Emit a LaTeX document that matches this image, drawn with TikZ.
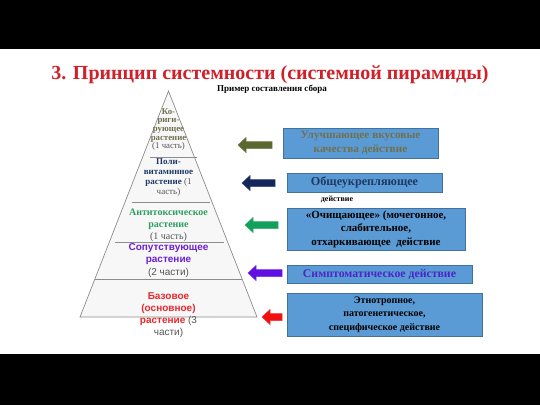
\documentclass[tikz,border=0pt]{standalone}
\usepackage{fontspec}
\setmainfont{Liberation Serif}
\setsansfont{Liberation Sans}
\definecolor{titlered}{HTML}{D0202A}
\definecolor{olivetxt}{HTML}{707050}
\definecolor{navytxt}{HTML}{1F3864}
\definecolor{greentxt}{HTML}{2E9E62}
\definecolor{purpletxt}{HTML}{6A1FD0}
\definecolor{boxpurple}{HTML}{4B25C8}
\definecolor{redtxt}{HTML}{E8282E}
\definecolor{boxfill}{HTML}{5B9BD5}
\definecolor{boxline}{HTML}{41719C}
\definecolor{arrolive}{HTML}{5C6830}
\definecolor{arrnavy}{HTML}{14275A}
\definecolor{arrgreen}{HTML}{14A05A}
\definecolor{arrpurple}{HTML}{6010E0}
\definecolor{arrred}{HTML}{F01010}
\definecolor{pyrline}{HTML}{8C8C8C}
\definecolor{parttxt}{HTML}{555555}
\tikzset{
  bluebox/.style={draw=boxline, fill=boxfill, line width=0.8pt, inner sep=0pt},
  layertxt/.style={align=center, inner sep=0pt},
  boxtxt/.style={align=center, inner sep=0pt},
  arrfill/.style={fill=#1, draw=#1!85!white, line width=0.5pt},
}
\begin{document}
\begin{tikzpicture}[x=1pt,y=-1pt]
\useasboundingbox (0,0) rectangle (540,405);
\fill[white] (0,0) rectangle (540,405);
\fill[black] (0,0) rectangle (540,49);
\fill[black] (0,354) rectangle (540,405);
% title
\node[font=\bfseries\fontsize{20}{24}\selectfont, text=titlered, inner sep=0pt] (title) at (270,75) {3. Принцип системности (системной пирамиды)};
\node[font=\bfseries\fontsize{9}{10}\selectfont, inner sep=0pt] (sub) at (272,89) {Пример составления сбора};
% pyramid
\coordinate (apex) at (168.5,91);
\coordinate (bl) at (80,317);
\coordinate (br) at (257,317);
\filldraw[draw=pyrline, fill=gray!6, line width=0.7pt] (apex) -- (br) -- (bl) -- cycle;
\draw[pyrline, line width=0.7pt] (150,157) -- (197,157);
\draw[pyrline, line width=0.7pt] (132,202) -- (210,202);
\draw[pyrline, line width=0.7pt] (115,242) -- (224,242);
\draw[pyrline, line width=0.7pt] (95,279) -- (242,279);
% layer texts
\node[layertxt, font=\fontsize{8.8}{8.7}\selectfont] (l1) at (168.5,129.5)
  {\textcolor{olivetxt}{\bfseries Ко-}\\\textcolor{olivetxt}{\bfseries риги-}\\\textcolor{olivetxt}{\bfseries рующее}\\\textcolor{olivetxt}{\bfseries растение}\\\textcolor{parttxt}{(1 часть)}};
\node[layertxt, font=\fontsize{9}{10.3}\selectfont] (l2) at (168.5,177.5)
  {\textcolor{navytxt}{\bfseries Поли-}\\\textcolor{navytxt}{\bfseries витаминное}\\\textcolor{navytxt}{\bfseries растение} \textcolor{parttxt}{(1}\\\textcolor{parttxt}{часть)}};
\node[layertxt, font=\fontsize{10}{12}\selectfont] (l3) at (168.5,225)
  {\textcolor{greentxt}{\bfseries Антитоксическое}\\\textcolor{greentxt}{\bfseries растение}\\\textcolor{parttxt}{(1 часть)}};
\node[layertxt, font=\sffamily\fontsize{10}{12.5}\selectfont] (l4) at (168.5,260.5)
  {\textcolor{purpletxt}{\bfseries Сопутствующее}\\\textcolor{purpletxt}{\bfseries растение}\\\textcolor{parttxt}{(2 части)}};
\node[layertxt, font=\sffamily\fontsize{10}{12}\selectfont] (l5) at (168.5,315)
  {\textcolor{redtxt}{\bfseries Базовое}\\\textcolor{redtxt}{\bfseries (основное)}\\\textcolor{redtxt}{\bfseries растение} \textcolor{parttxt}{(3}\\\textcolor{parttxt}{части)}};
% boxes
\node[bluebox, minimum width=155pt, minimum height=30pt] (b1) at (360.5,143) {};
\node[boxtxt, text=olivetxt, font=\bfseries\fontsize{11.3}{14}\selectfont] (t1) at (b1) {Улучшающее вкусовые\\качества действие};
\node[bluebox, minimum width=155pt, minimum height=19pt] (b2) at (364.5,182.5) {};
\node[boxtxt, text=navytxt, font=\bfseries\fontsize{12.2}{14}\selectfont] (t2) at (b2) {Общеукрепляющее};
\node[boxtxt, text=black, font=\bfseries\fontsize{8}{9}\selectfont] (t2b) at (337,199) {действие};
\node[bluebox, minimum width=178pt, minimum height=42pt] (b3) at (376,229) {};
\node[boxtxt, text=black, font=\bfseries\fontsize{11}{13.5}\selectfont] (t3) at (b3) {«Очищающее» (мочегонное,\\слабительное,\\отхаркивающее\ \ действие};
\node[bluebox, minimum width=185pt, minimum height=18pt] (b4) at (379.5,274) {};
\node[boxtxt, text=boxpurple, font=\bfseries\fontsize{11.8}{14}\selectfont] (t4) at (b4) {Симптоматическое действие};
\node[bluebox, minimum width=195pt, minimum height=43pt] (b5) at (384.5,314.5) {};
\node[boxtxt, text=black, font=\bfseries\fontsize{10}{13.5}\selectfont] (t5) at (b5) {Этнотропное,\\патогенетическое,\\специфическое действие};
% arrows
\coordinate (a1) at (238,145);
\coordinate (a2) at (242,183);
\coordinate (a3) at (245,225);
\coordinate (a4) at (248,273);
\coordinate (a5) at (262,317);
\path[arrfill=arrolive] (a1) -- ++(8,-7.5) -- ++(0,4) -- ++(26,0) -- ++(0,7) -- ++(-26,0) -- ++(0,4) -- cycle;
\path[arrfill=arrnavy] (a2) -- ++(8,-7.5) -- ++(0,4) -- ++(25,0) -- ++(0,7) -- ++(-25,0) -- ++(0,4) -- cycle;
\path[arrfill=arrgreen] (a3) -- ++(8,-7.5) -- ++(0,4) -- ++(25,0) -- ++(0,7) -- ++(-25,0) -- ++(0,4) -- cycle;
\path[arrfill=arrpurple] (a4) -- ++(8,-7.5) -- ++(0,4) -- ++(26,0) -- ++(0,7) -- ++(-26,0) -- ++(0,4) -- cycle;
\path[arrfill=arrred] (a5) -- ++(8,-7.5) -- ++(0,4) -- ++(12,0) -- ++(0,7) -- ++(-12,0) -- ++(0,4) -- cycle;
\end{tikzpicture}
\end{document}
